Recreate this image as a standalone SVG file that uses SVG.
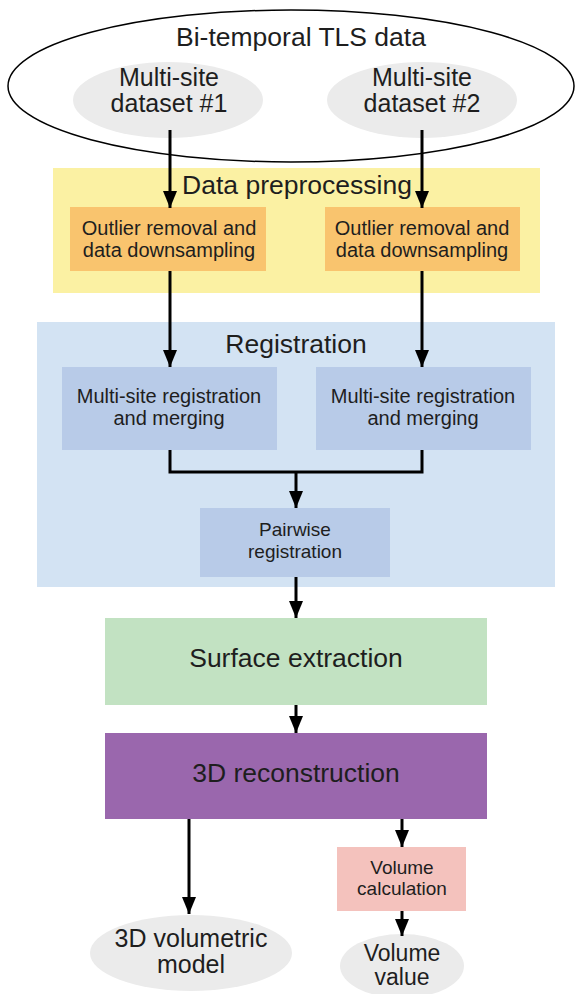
<svg xmlns="http://www.w3.org/2000/svg" width="581" height="994" viewBox="0 0 581 994">
<style>
text{font-family:"Liberation Sans",Arial,sans-serif;fill:#1e1e1e;text-anchor:middle}
.big{font-size:26.5px}
.two{font-size:25px}
.mid{font-size:20px}
.sm{font-size:19px}
.ln{stroke:#000;stroke-width:3;fill:none}
</style>
<defs>
<marker id="ah" markerWidth="17" markerHeight="14" refX="17" refY="7" orient="auto" markerUnits="userSpaceOnUse" viewBox="0 0 17 14">
<path d="M0,0 L17,7 L0,14 Z" fill="#000"/>
</marker>
</defs>
<rect width="581" height="994" fill="#fff"/>
<g id="tls">
<ellipse cx="291" cy="86" rx="283" ry="76" fill="#fff" stroke="#000" stroke-width="1.5"/>
<text class="big" x="301" y="46">Bi-temporal TLS data</text>
</g>
<g id="ds1">
<ellipse cx="168" cy="100" rx="95" ry="38" fill="#ebebeb"/>
<text class="two" x="169" y="86">Multi-site</text>
<text class="two" x="169" y="112">dataset #1</text>
</g>
<g id="ds2">
<ellipse cx="422" cy="100" rx="95" ry="38" fill="#ebebeb"/>
<text class="two" x="422" y="86">Multi-site</text>
<text class="two" x="422" y="112">dataset #2</text>
</g>
<g id="preproc">
<rect x="53" y="168" width="487" height="125" fill="#fbf1a3"/>
<text class="big" x="297" y="194">Data preprocessing</text>
</g>
<g id="out1">
<rect x="70" y="207" width="196" height="64" fill="#f9c46e"/>
<text class="mid" x="169" y="235">Outlier removal and</text>
<text class="mid" x="169" y="257">data downsampling</text>
</g>
<g id="out2">
<rect x="325" y="207" width="195" height="64" fill="#f9c46e"/>
<text class="mid" x="422" y="235">Outlier removal and</text>
<text class="mid" x="422" y="257">data downsampling</text>
</g>
<g id="registration">
<rect x="37" y="322" width="518" height="265" fill="#d3e3f3"/>
<text class="big" x="296" y="353">Registration</text>
</g>
<g id="reg1">
<rect x="62" y="367" width="215" height="83" fill="#b8cbe8"/>
<text class="mid" x="169" y="403">Multi-site registration</text>
<text class="mid" x="169" y="425">and merging</text>
</g>
<g id="reg2">
<rect x="316" y="367" width="215" height="83" fill="#b8cbe8"/>
<text class="mid" x="423" y="403">Multi-site registration</text>
<text class="mid" x="423" y="425">and merging</text>
</g>
<g id="pairwise">
<rect x="200" y="508" width="190" height="69" fill="#b8cbe8"/>
<text class="sm" x="295" y="536">Pairwise</text>
<text class="sm" x="295" y="558">registration</text>
</g>
<g id="surface">
<rect x="105" y="618" width="382" height="87" fill="#c2e2c2"/>
<text class="big" x="296" y="667">Surface extraction</text>
</g>
<g id="recon">
<rect x="105" y="733" width="382" height="86" fill="#9a67ad"/>
<text class="big" x="296" y="782">3D reconstruction</text>
</g>
<g id="volcalc">
<rect x="337" y="847" width="129" height="64" fill="#f4c2bd"/>
<text class="sm" x="402" y="874">Volume</text>
<text class="sm" x="402" y="895">calculation</text>
</g>
<g id="model">
<ellipse cx="191" cy="953" rx="101" ry="38" fill="#ebebeb"/>
<text class="two" x="191" y="947">3D volumetric</text>
<text class="two" x="191" y="973">model</text>
</g>
<g id="volval">
<ellipse cx="402" cy="966" rx="62" ry="32" fill="#ebebeb"/>
<text x="402" y="961" style="font-size:23px">Volume</text>
<text x="402" y="985" style="font-size:23px">value</text>
</g>
<g id="connectors">
<path class="ln" d="M170,130 V208" marker-end="url(#ah)"/>
<path class="ln" d="M422,130 V208" marker-end="url(#ah)"/>
<path class="ln" d="M170,271 V367" marker-end="url(#ah)"/>
<path class="ln" d="M422,271 V367" marker-end="url(#ah)"/>
<path class="ln" d="M170,450 V472 H422 V450"/>
<path class="ln" d="M296,472 V508" marker-end="url(#ah)"/>
<path class="ln" d="M296,577 V618" marker-end="url(#ah)"/>
<path class="ln" d="M296,705 V733" marker-end="url(#ah)"/>
<path class="ln" d="M189,819 V914" marker-end="url(#ah)"/>
<path class="ln" d="M402,819 V847" marker-end="url(#ah)"/>
<path class="ln" d="M402,911 V936" marker-end="url(#ah)"/>
</g>
</svg>
